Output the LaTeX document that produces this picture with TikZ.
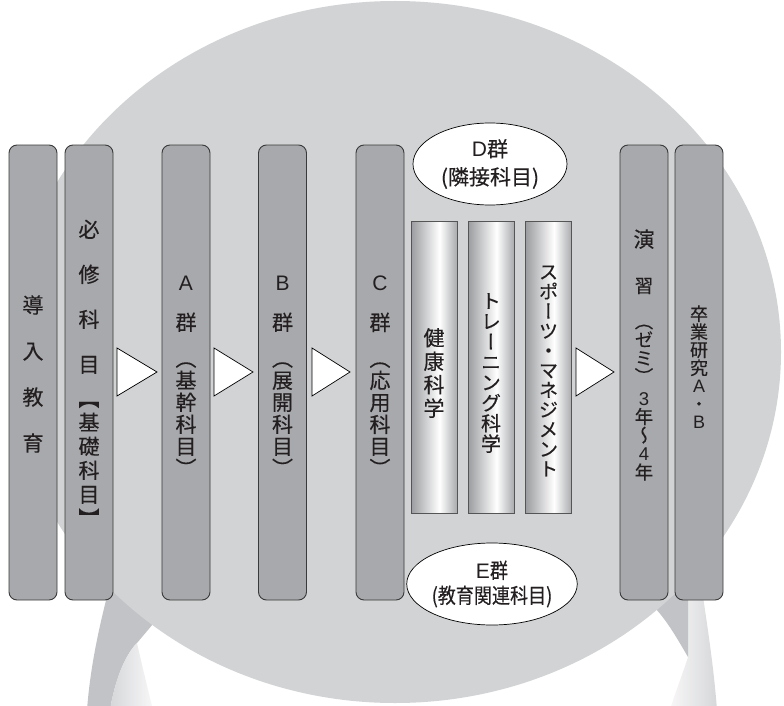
\documentclass[tikz,border=0pt]{standalone}
\usepackage{fontspec}
\newfontfamily\vjp[RawFeature=+vert,FakeBold=0.3]{Noto Sans CJK JP}
\newfontfamily\jpD[FakeBold=0.3]{Noto Sans CJK JP}
\newfontfamily\jpE[FakeStretch=0.86,FakeBold=0.3]{Noto Sans CJK JP}
\newfontfamily\lat{Liberation Sans}
\usetikzlibrary{shapes.geometric}
\definecolor{seat}{HTML}{D1D3D4}
\definecolor{legdark}{HTML}{C2C3C6}
\definecolor{boxfill}{HTML}{A7A9AC}
\definecolor{boxline}{HTML}{3A3A3A}
\definecolor{cylL}{HTML}{9A9C9F}
\definecolor{cylR}{HTML}{A9ABAE}
\definecolor{cylline}{HTML}{555555}
\definecolor{txt}{HTML}{231F20}
\definecolor{legA}{HTML}{D6D7D9}
\definecolor{legB}{HTML}{F7F7F8}
\pgfdeclarehorizontalshading{cylshade}{100bp}{color(0bp)=(cylL); color(25bp)=(cylL); color(56bp)=(white); color(75bp)=(cylR); color(100bp)=(cylR)}
\newcommand\vtf[2]{\vjp\fontsize{#1}{#2}\selectfont\lineskiplimit=-100pt\lineskip=0pt}
\newcommand\lt[1]{{\lat #1}}
\begin{document}
\begin{tikzpicture}[x=1pt,y=-1pt,
  box/.style={draw=boxline, fill=boxfill, rounded corners=8pt, line width=0.9pt, minimum width=48pt, minimum height=455pt, inner sep=0pt},
  cyl/.style={draw=cylline, line width=0.8pt, shading=cylshade, minimum width=46pt, minimum height=292pt, inner sep=0pt},
  tri/.style={draw=black, fill=white, line width=0.7pt, line join=miter},
  ell/.style={ellipse, draw=black, fill=white, line width=0.7pt, minimum width=154pt, minimum height=82pt, inner sep=0pt, align=center, text=txt},
  vtext/.style={align=center, text=txt, inner sep=0pt, anchor=center}
]
\useasboundingbox (0,0) rectangle (784,706);
% legs of the stool
\fill[legdark] (110,585) .. controls (98,630) and (90,670) .. (87,710) -- (110,710)
  .. controls (115,680) and (125,655) .. (137,643) -- (153,624) -- (150,585) -- cycle;
\shade[left color=legA, right color=legB] (110,710) .. controls (115,680) and (125,655) .. (137,643)
  .. controls (142,665) and (148,690) .. (153,710) -- cycle;
\shade[left color=legB, right color=legA] (688,590) -- (702,590) .. controls (708,630) and (714,670) .. (717,710)
  -- (670,710) .. controls (676,690) and (684,670) .. (688,657) -- cycle;
\fill[legdark] (650,598) -- (688,590) -- (688,657) .. controls (678,640) and (668,622) .. (655,608) -- cycle;
% seat
\fill[seat] (395,352) ellipse [x radius=386, y radius=351];
% columns
\node[box] (b1) at (33,372.5) {};
\node[box] (b2) at (89,372.5) {};
\node[box] (b3) at (186,372.5) {};
\node[box] (b4) at (282.5,372.5) {};
\node[box] (b5) at (380,372.5) {};
\node[box] (b6) at (644,372.5) {};
\node[box] (b7) at (699,372.5) {};
\node[cyl] (c1) at (434,367) {};
\node[cyl] (c2) at (491,367) {};
\node[cyl] (c3) at (548.5,367) {};
% arrows
\draw[tri] (117,348) -- (157,372) -- (117,396) -- cycle;
\draw[tri] (214,348) -- (253,372) -- (214,396) -- cycle;
\draw[tri] (312,348) -- (350,372) -- (312,396) -- cycle;
\draw[tri] (576,348) -- (614,372) -- (576,396) -- cycle;
% ellipses
\node[ell, font=\jpD\fontsize{21}{28}\selectfont] (D) at (490,164) {\lt{D}群\\(隣接科目)};
\node[ell, font=\jpE\fontsize{21}{25}\selectfont] (E) at (492,584) {\lt{E}群\\(教育関連科目)};
% texts
\node[vtext, font={\vtf{21}{46}}] (t1) at (33,374) {導\\入\\教\\育};
\node[vtext, font={\vtf{21}{24}}] (t2) at (89,373) {必\\[21pt]修\\[21pt]科\\[21pt]目\\[10pt]【\\基\\礎\\科\\目\\】};
\node[vtext, font={\vtf{21}{22}}] (t3) at (186,376) {\lt{A}\\[18pt]群\\[14pt]（\\基\\幹\\科\\目\\）};
\node[vtext, font={\vtf{21}{22}}] (t4) at (282.5,376) {\lt{B}\\[18pt]群\\[14pt]（\\展\\開\\科\\目\\）};
\node[vtext, font={\vtf{21}{22}}] (t5) at (380,376) {\lt{C}\\[18pt]群\\[14pt]（\\応\\用\\科\\目\\）};
\node[vtext, font={\vtf{21}{23.5}}] (tc1) at (434,373) {健\\康\\科\\学};
\node[vtext, font={\vtf{20}{20.4}}] (tc2) at (491,373) {ト\\レ\\ー\\ニ\\ン\\グ\\科\\学};
\node[vtext, font={\vtf{19.5}{19.7}}] (tc3) at (548.5,371) {ス\\ポ\\ー\\ツ\\・\\マ\\ネ\\ジ\\メ\\ン\\ト};
\node[vtext, font={\vtf{18.5}{18.5}}] (t6) at (644,355) {\fontsize{21}{18.5}\selectfont 演\\[27pt]習\\[17pt]\fontsize{18.5}{18.5}\selectfont（\\ゼ\\ミ\\）\\[3pt]\lt{3}\\年\\〜\\\lt{4}\\年};
\node[vtext, font={\vtf{18}{18}}] (t7) at (699,367) {卒\\業\\研\\究\\\lt{A}\\・\\\lt{B}};
\end{tikzpicture}
\end{document}
